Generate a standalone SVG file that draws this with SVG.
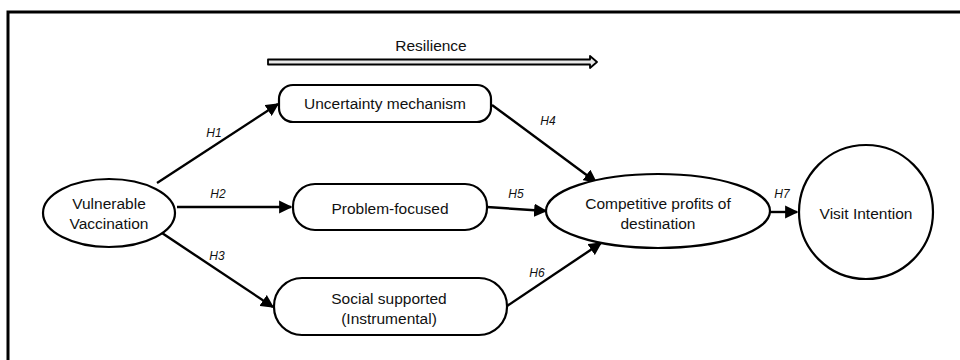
<svg xmlns="http://www.w3.org/2000/svg" width="960" height="360" viewBox="0 0 960 360">
<defs>
<style>
.n{fill:#fff;stroke:#000;stroke-width:2.2}
.t{font-family:"Liberation Sans",Arial,sans-serif;font-size:15.5px;fill:#111;text-anchor:middle}
.h{font-family:"Liberation Sans",Arial,sans-serif;font-size:12px;font-style:italic;fill:#111;text-anchor:middle}
.c{stroke:#000;stroke-width:2.4;fill:none;marker-end:url(#ah)}
</style>
<marker id="ah" viewBox="0 0 10 10" refX="9" refY="5" markerWidth="5.5" markerHeight="5.5" markerUnits="strokeWidth" orient="auto">
<path d="M0,0 L10,5 L0,10 z" fill="#000"/>
</marker>
</defs>
<rect width="960" height="360" fill="#fff"/>
<path d="M8,360 V12 H960" fill="none" stroke="#000" stroke-width="3"/>
<g id="resilience">
<text class="t" x="431" y="51">Resilience</text>
<path d="M268,59.5 H590 V56 L597,62 L590,68 V64.5 H268 Z" fill="#e8e8e8" stroke="#000" stroke-width="1.8" stroke-linejoin="round"/>
</g>
<g id="connectors">
<line class="c" x1="157" y1="183" x2="278" y2="104"/>
<text class="h" x="214" y="137">H1</text>
<line class="c" x1="177" y1="207" x2="291" y2="207"/>
<text class="h" x="218" y="198">H2</text>
<line class="c" x1="162" y1="233" x2="273" y2="307"/>
<text class="h" x="217" y="260">H3</text>
<line class="c" x1="492" y1="105" x2="596" y2="182"/>
<text class="h" x="548" y="125">H4</text>
<line class="c" x1="487" y1="207" x2="546" y2="211"/>
<text class="h" x="516" y="198">H5</text>
<line class="c" x1="507" y1="306" x2="601" y2="243"/>
<text class="h" x="537" y="277">H6</text>
<line class="c" x1="770" y1="212" x2="797" y2="212"/>
<text class="h" x="782" y="198">H7</text>
</g>
<g id="vulnerable">
<ellipse class="n" cx="109" cy="213" rx="66" ry="34"/>
<text class="t" x="109" y="208.5">Vulnerable</text>
<text class="t" x="109" y="228.5">Vaccination</text>
</g>
<g id="uncertainty">
<rect class="n" x="279" y="85" width="212" height="37" rx="14"/>
<text class="t" x="385" y="109">Uncertainty mechanism</text>
</g>
<g id="problem">
<rect class="n" x="293" y="184" width="194" height="46" rx="22"/>
<text class="t" x="390" y="213.5">Problem-focused</text>
</g>
<g id="social">
<rect class="n" x="274" y="278" width="233" height="57" rx="28"/>
<text class="t" x="389" y="303.5">Social supported</text>
<text class="t" x="389" y="323.5">(Instrumental)</text>
</g>
<g id="competitive">
<ellipse class="n" cx="658" cy="211" rx="112" ry="37"/>
<text class="t" x="658" y="208.5">Competitive profits of</text>
<text class="t" x="658" y="228.5">destination</text>
</g>
<g id="visit">
<circle class="n" cx="866" cy="212" r="67"/>
<text class="t" x="866" y="218.5">Visit Intention</text>
</g>
</svg>
